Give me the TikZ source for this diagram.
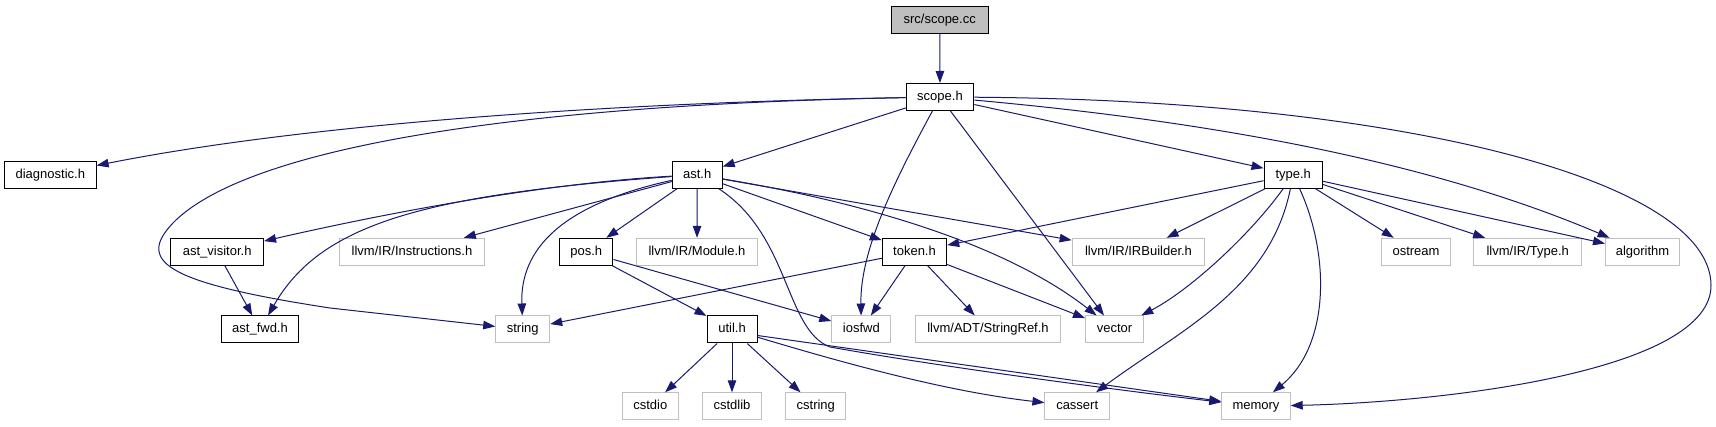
\documentclass[tikz,border=0pt]{standalone}
\usepackage{fontspec}
\setmainfont{Liberation Sans}
\usetikzlibrary{arrows.meta}
\definecolor{EdgeBlue}{HTML}{191970}
\definecolor{RootGrey}{HTML}{BFBFBF}
\definecolor{SysGrey}{HTML}{BFBFBF}
\tikzset{
  docfile/.style={draw=black, line width=1pt, minimum height=27pt, inner xsep=0pt, inner ysep=0pt,
    text height=9.5pt, text depth=2.7pt, font=\fontsize{13}{15}\selectfont},
  rootfile/.style={docfile, fill=RootGrey},
  sysfile/.style={docfile, draw=SysGrey},
  incedge/.style={-{Triangle[length=12pt,width=8.5pt]}, EdgeBlue, line width=1pt},
}

\begin{document}
\begin{tikzpicture}[x=1pt,y=-1pt]
\fill[white] (0,0) rectangle (1716,427);
\useasboundingbox (0,0) rectangle (1716,427);

\node[rootfile, minimum width=97pt] (scopecc) at (939.7,19.8) {src/scope.cc};
\node[docfile, minimum width=67.6pt] (scopeh) at (940,97) {scope.h};

\node[docfile, minimum width=91.7pt] (diagnostic) at (50.3,174.7) {diagnostic.h};
\node[docfile, minimum width=50pt] (ast) at (697.2,174.7) {ast.h};
\node[docfile, minimum width=58.3pt] (type) at (1293.2,174.7) {type.h};

\node[docfile, minimum width=92.7pt] (astvisitor) at (217.2,251.8) {ast\_visitor.h};
\node[sysfile, minimum width=145.6pt] (instructions) at (412,251.8) {llvm/IR/Instructions.h};
\node[docfile, minimum width=53.5pt] (pos) at (586.2,251.8) {pos.h};
\node[sysfile, minimum width=120.5pt] (module) at (697,251.8) {llvm/IR/Module.h};
\node[docfile, minimum width=64.4pt] (token) at (914.5,251.8) {token.h};
\node[sysfile, minimum width=132.7pt] (irbuilder) at (1138.5,251.8) {llvm/IR/IRBuilder.h};
\node[sysfile, minimum width=68.3pt] (ostream) at (1416,251.8) {ostream};
\node[sysfile, minimum width=107.5pt] (typeh) at (1527.7,251.8) {llvm/IR/Type.h};
\node[sysfile, minimum width=74pt] (algorithm) at (1642.5,251.8) {algorithm};

\node[docfile, minimum width=77.8pt] (astfwd) at (260,329.5) {ast\_fwd.h};
\node[sysfile, minimum width=54pt] (string) at (522.7,329.5) {string};
\node[docfile, minimum width=50pt] (util) at (732,329.5) {util.h};
\node[sysfile, minimum width=59pt] (iosfwd) at (861.3,329.5) {iosfwd};
\node[sysfile, minimum width=145.8pt] (stringref) at (988,329.5) {llvm/ADT/StringRef.h};
\node[sysfile, minimum width=58pt] (vector) at (1114.5,329.5) {vector};

\node[sysfile, minimum width=56.5pt] (cstdio) at (650.3,406.3) {cstdio};
\node[sysfile, minimum width=59pt] (cstdlib) at (732,406.3) {cstdlib};
\node[sysfile, minimum width=60pt] (cstring) at (815.8,406.3) {cstring};
\node[sysfile, minimum width=64.6pt] (cassert) at (1077.2,406.3) {cassert};
\node[sysfile, minimum width=68.4pt] (memory) at (1256,406.3) {memory};

\draw[incedge] (scopecc) -- (scopeh);
\draw[incedge] (scopeh) .. controls (600,103) and (300,125) .. (diagnostic);
\draw[incedge] (scopeh) .. controls (500,105) and (250,150) .. (176,220) .. controls (135,260) and (160,282) .. (330,308) -- (string);
\draw[incedge] (scopeh) -- (ast);
\draw[incedge] (scopeh) .. controls (895,180) and (860,250) .. (iosfwd);
\draw[incedge] (scopeh) -- (vector);
\draw[incedge] (scopeh) -- (type);
\draw[incedge] (scopeh) .. controls (1250,125) and (1450,170) .. (algorithm);
\draw[incedge] (scopeh) .. controls (1400,100) and (1710,180) .. (1711,285) .. controls (1712,370) and (1450,402) .. (memory);

\draw[incedge] (ast) .. controls (550,183) and (400,210) .. (astvisitor);
\draw[incedge] (ast) .. controls (420,195) and (320,225) .. (astfwd);
\draw[incedge] (ast) -- (instructions);
\draw[incedge] (ast) .. controls (560,205) and (520,250) .. (string);
\draw[incedge] (ast) -- (pos);
\draw[incedge] (ast) -- (module);
\draw[incedge] (ast) .. controls (790,235) and (785,330) .. (830,347) .. controls (930,365) and (1100,388) .. (memory);
\draw[incedge] (ast) -- (token);
\draw[incedge] (ast) .. controls (850,200) and (1000,240) .. (vector);
\draw[incedge] (ast) -- (irbuilder);

\draw[incedge] (type) -- (token);
\draw[incedge] (type) -- (irbuilder);
\draw[incedge] (type) .. controls (1250,235) and (1190,290) .. (vector);
\draw[incedge] (type) .. controls (1270,290) and (1180,330) .. (cassert);
\draw[incedge] (type) .. controls (1330,255) and (1330,345) .. (memory);
\draw[incedge] (type) -- (ostream);
\draw[incedge] (type) -- (typeh);
\draw[incedge] (type) -- (algorithm);

\draw[incedge] (astvisitor) -- (astfwd);

\draw[incedge] (pos) -- (util);
\draw[incedge] (pos) -- (iosfwd);

\draw[incedge] (token) -- (string);
\draw[incedge] (token) -- (iosfwd);
\draw[incedge] (token) -- (stringref);
\draw[incedge] (token) -- (vector);

\draw[incedge] (util) -- (cstdio);
\draw[incedge] (util) -- (cstdlib);
\draw[incedge] (util) -- (cstring);
\draw[incedge] (util) .. controls (850,365) and (950,392) .. (cassert);
\draw[incedge] ([yshift=-6pt]util.east) -- (memory);
\end{tikzpicture}
\end{document}
